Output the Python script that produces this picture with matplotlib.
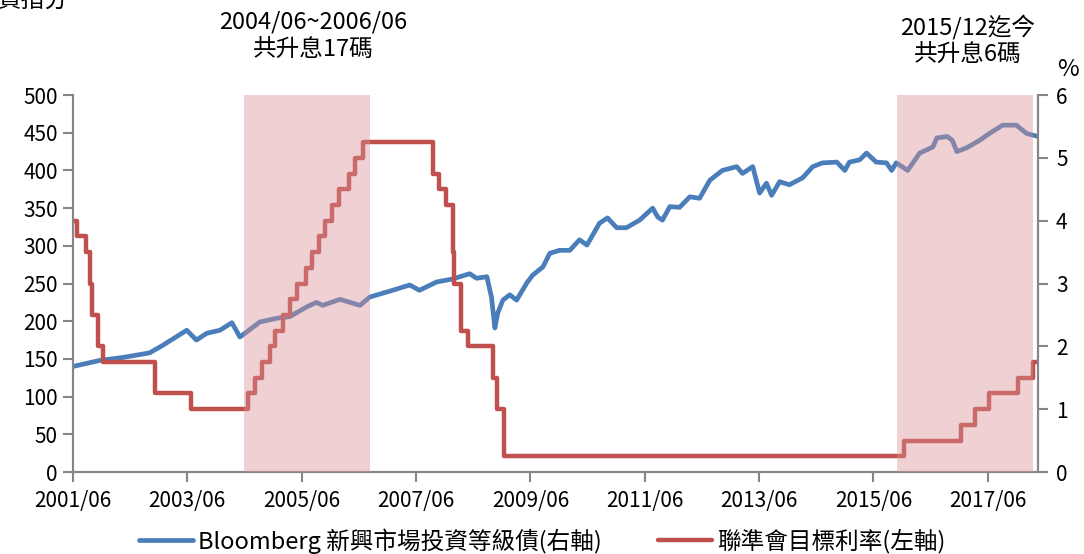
import matplotlib
matplotlib.use("Agg")
import matplotlib.pyplot as plt

plt.rcParams['font.family'] = ['Noto Sans CJK TC', 'DejaVu Sans']

# Bloomberg 新興市場投資等級債 (指數, 左刻度) - 讀自原圖
bond_x = [2001.42, 2001.89, 2002.3, 2002.76, 2002.99, 2003.41, 2003.58, 2003.76, 2003.99, 2004.2,
          2004.34, 2004.69, 2004.99, 2005.21, 2005.51, 2005.68, 2005.79, 2006.09, 2006.44, 2006.61,
          2007.01, 2007.31, 2007.48, 2007.78, 2008.06, 2008.36, 2008.48, 2008.66, 2008.74, 2008.8,
          2008.85, 2008.94, 2009.06, 2009.18, 2009.36, 2009.46, 2009.64, 2009.76, 2009.93, 2010.11,
          2010.28, 2010.41, 2010.63, 2010.77, 2010.93, 2011.1, 2011.33, 2011.56, 2011.65, 2011.73,
          2011.86, 2012.03, 2012.21, 2012.38, 2012.56, 2012.78, 2013.03, 2013.13, 2013.31, 2013.43,
          2013.55, 2013.64, 2013.78, 2013.95, 2014.18, 2014.36, 2014.53, 2014.78, 2014.92, 2015.0,
          2015.18, 2015.3, 2015.47, 2015.65, 2015.74, 2015.82, 2016.02, 2016.23, 2016.46, 2016.53,
          2016.71, 2016.8, 2016.88, 2017.05, 2017.28, 2017.45, 2017.68, 2017.92, 2018.1, 2018.3]
bond_val = [140, 148, 152, 158, 168, 188, 175, 184, 188, 198,
            179, 199, 204, 206, 219, 225, 221, 229, 221, 232,
            241, 248, 241, 252, 256, 263, 257, 259, 232, 191,
            211, 228, 235, 228, 251, 261, 272, 290, 294, 294,
            308, 301, 330, 337, 324, 324, 334, 350, 338, 334,
            352, 351, 365, 363, 387, 400, 405, 396, 405, 370,
            383, 367, 385, 381, 390, 405, 410, 411, 400, 411,
            414, 423, 411, 410, 400, 410, 400, 423, 431, 443,
            445, 440, 425, 430, 440, 449, 460, 460, 449, 445]

# 聯準會目標利率 (%), 變動日期
rate_x = [2001.42, 2001.49, 2001.64, 2001.71, 2001.75, 2001.85, 2001.94, 2002.85, 2003.48,
          2004.49, 2004.61, 2004.72, 2004.86, 2004.95, 2005.09, 2005.22, 2005.33, 2005.49,
          2005.60, 2005.72, 2005.83, 2005.95, 2006.08, 2006.24, 2006.36, 2006.49,
          2007.71, 2007.83, 2007.94, 2008.06, 2008.08, 2008.21, 2008.33, 2008.77, 2008.83, 2008.96,
          2015.96, 2016.95, 2017.20, 2017.45, 2017.95, 2018.22, 2018.30]
rate_val = [4.0, 3.75, 3.5, 3.0, 2.5, 2.0, 1.75, 1.25, 1.0,
            1.25, 1.5, 1.75, 2.0, 2.25, 2.5, 2.75, 3.0, 3.25,
            3.5, 3.75, 4.0, 4.25, 4.5, 4.75, 5.0, 5.25,
            4.75, 4.5, 4.25, 3.5, 3.0, 2.25, 2.0, 1.5, 1.0, 0.25,
            0.5, 0.75, 1.0, 1.25, 1.5, 1.75, 1.75]

hike_periods = [(2004.41, 2006.61), (2015.84, 2018.22)]
tick_pos = [2001.42, 2003.42, 2005.42, 2007.42, 2009.42, 2011.42, 2013.42, 2015.42, 2017.42]
tick_labels = ['2001/06', '2003/06', '2005/06', '2007/06', '2009/06',
               '2011/06', '2013/06', '2015/06', '2017/06']

blue = '#4A7EBB'
red = '#C0504D'
grey = '#868686'

fig = plt.figure(figsize=(10.84, 5.54), dpi=100)
ax = fig.add_axes([0.0673, 0.148, 0.8903, 0.6805])
ax2 = ax.twinx()

lb, = ax.plot(bond_x, bond_val, color=blue, lw=3.4, solid_capstyle='round',
              solid_joinstyle='round', label='Bloomberg 新興市場投資等級債(右軸)')
lr, = ax2.step(rate_x, rate_val, where='post', color=red, lw=3.2, solid_capstyle='round',
               label='聯準會目標利率(左軸)')
for a, b in hike_periods:
    ax2.axvspan(a, b, color='#DA9194', alpha=0.41, lw=0, zorder=5)

ax.set_xlim(2001.42, 2018.30)
ax.set_ylim(0, 500)
ax2.set_ylim(0, 6)
ax.set_yticks(range(0, 501, 50))
ax2.set_yticks(range(0, 7))
ax.set_xticks(tick_pos)
ax.set_xticklabels(tick_labels)

for a in (ax, ax2):
    a.spines['top'].set_visible(False)
    for s in ('left', 'right', 'bottom'):
        a.spines[s].set_color(grey)
        a.spines[s].set_linewidth(1.5)
    a.tick_params(colors=grey, width=1.5, length=7, labelsize=15, labelcolor='black')
ax.tick_params(axis='x', pad=6)
ax.tick_params(axis='y', pad=4)
ax2.tick_params(axis='y', pad=6)

fig.text(313 / 1084, 1 - 22 / 554, '2004/06~2006/06', ha='center', va='center', fontsize=17)
fig.text(313 / 1084, 1 - 50 / 554, '共升息17碼', ha='center', va='center', fontsize=17)
fig.text(968 / 1084, 1 - 27 / 554, '2015/12迄今', ha='center', va='center', fontsize=17)
fig.text(968 / 1084, 1 - 55 / 554, '共升息6碼', ha='center', va='center', fontsize=17)
fig.text(1068 / 1084, 1 - 70 / 554, '%', ha='center', va='center', fontsize=17)
fig.text(-2 / 1084, 1 - 1 / 554, '資指分', ha='left', va='center', fontsize=17)

fig.legend(handles=[lb, lr], loc='center', bbox_to_anchor=(0.5, 1 - 541 / 554), ncol=2,
           frameon=False, fontsize=17, handlelength=2.3, handletextpad=0.2, columnspacing=2.4)

fig.savefig('out.png', dpi=100)
